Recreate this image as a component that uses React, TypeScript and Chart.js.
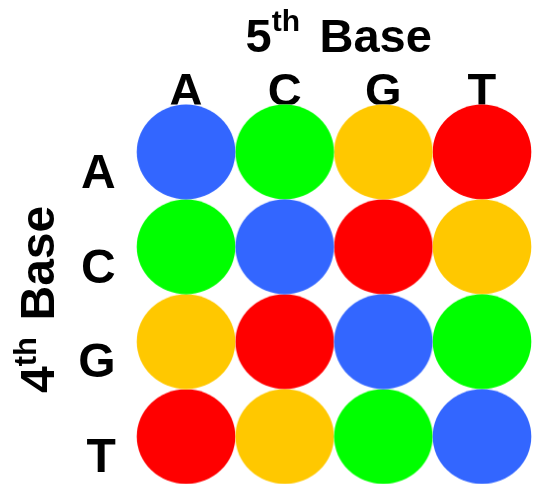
import React, { useEffect, useRef } from "react";
import { Chart, registerables } from "chart.js";

Chart.register(...registerables);

// ---- data ----
const fifthBase = ["A", "C", "G", "T"]; // columns (x)
const fourthBase = ["A", "C", "G", "T"]; // rows (y)
const rowA = ["blue", "green", "yellow", "red"];
const rowC = ["green", "blue", "red", "yellow"];
const rowG = ["yellow", "red", "blue", "green"];
const rowT = ["red", "yellow", "green", "blue"];
const cellRows = [rowA, rowC, rowG, rowT];
const colorNames = ["blue", "green", "yellow", "red"];
const palette: Record<string, string> = {
  blue: "#3366FF",
  green: "#00FF00",
  yellow: "#FFC800",
  red: "#FF0000",
};
const topTitle = ["5", "th", "Base"];
const leftTitle = ["4", "th", "Base"];

const FONT = '"Liberation Sans", Arial, Helvetica, sans-serif';

function makeSprite(color: string): HTMLCanvasElement {
  const c = document.createElement("canvas");
  c.width = 100;
  c.height = 96;
  const g = c.getContext("2d")!;
  g.fillStyle = color;
  g.beginPath();
  g.ellipse(50, 48, 49.3, 47.4, 0, 0, Math.PI * 2);
  g.fill();
  return c;
}

function drawSupTitle(
  ctx: CanvasRenderingContext2D,
  parts: string[],
  big: number,
  small: number,
  rise: number,
  restX: number
) {
  ctx.font = `bold ${big}px ${FONT}`;
  ctx.fillText(parts[0], 0, 0);
  let x = ctx.measureText(parts[0]).width;
  ctx.font = `bold ${small}px ${FONT}`;
  ctx.fillText(parts[1], x, -rise);
  ctx.font = `bold ${big}px ${FONT}`;
  ctx.fillText(parts[2], restX, 0);
}

const titlePlugin = {
  id: "baseTitles",
  afterDraw(chart: any) {
    const ctx: CanvasRenderingContext2D = chart.ctx;
    ctx.save();
    ctx.fillStyle = "#000000";
    ctx.textAlign = "left";
    ctx.textBaseline = "alphabetic";
    // top title
    ctx.save();
    ctx.translate(245.5, 52);
    drawSupTitle(ctx, topTitle, 47, 30, 21, 74);
    ctx.restore();
    // left (rotated) title
    ctx.save();
    ctx.translate(54, 393);
    ctx.rotate(-Math.PI / 2);
    drawSupTitle(ctx, leftTitle, 48, 31, 18, 72.5);
    ctx.restore();
    ctx.restore();
  },
};

export default function App() {
  const ref = useRef<HTMLCanvasElement | null>(null);

  useEffect(() => {
    if (!ref.current) return;
    const datasets = colorNames.map((name) => {
      const pts: { x: number; y: number }[] = [];
      cellRows.forEach((row, r) =>
        row.forEach((c, col) => {
          if (c === name) pts.push({ x: col, y: r });
        })
      );
      return {
        label: name,
        data: pts,
        pointStyle: makeSprite(palette[name]) as any,
        pointRadius: 10,
        pointHoverRadius: 10,
        clip: false as any,
      };
    });

    const chart = new Chart(ref.current, {
      type: "scatter",
      data: { datasets },
      plugins: [titlePlugin],
      options: {
        responsive: false,
        animation: false,
        events: [],
        layout: { autoPadding: false, padding: { top: 0, left: 0, right: 4.7, bottom: 0 } },
        plugins: {
          legend: { display: false },
          tooltip: { enabled: false },
          title: { display: false },
        },
        scales: {
          x: {
            type: "linear",
            position: "top",
            min: -0.5,
            max: 3.5,
            grid: { display: false, drawTicks: false },
            border: { display: false },
            afterBuildTicks: (s: any) => {
              s.ticks = fifthBase.map((_, i) => ({ value: i }));
            },
            afterFit: (s: any) => {
              s.height = 104.5;
              s.paddingLeft = 0;
              s.paddingRight = 0;
            },
            ticks: {
              autoSkip: false,
              maxRotation: 0,
              minRotation: 0,
              padding: 0,
              color: "#000000",
              font: { family: FONT, size: 47, weight: "bold", lineHeight: "23px" },
              callback: (v: any) => fifthBase[v] ?? "",
            },
          },
          y: {
            type: "linear",
            position: "left",
            reverse: true,
            min: -0.5,
            max: 3.5,
            grid: { display: false, drawTicks: false },
            border: { display: false },
            afterBuildTicks: (s: any) => {
              s.ticks = fourthBase.map((_, i) => ({ value: i }));
            },
            afterFit: (s: any) => {
              s.width = 136.7;
              s.paddingTop = 0;
              s.paddingBottom = 0;
            },
            ticks: {
              autoSkip: false,
              padding: 21,
              labelOffset: 22.5,
              color: "#000000",
              font: { family: FONT, size: 48, weight: "bold" },
              callback: (v: any) => fourthBase[v] ?? "",
            },
          },
        },
      },
    });
    return () => chart.destroy();
  }, []);

  return (
    <div style={{ position: "absolute", left: 0, top: 0, width: 536, height: 484, background: "#ffffff" }}>
      <canvas ref={ref} width={536} height={484} style={{ display: "block" }} />
    </div>
  );
}
